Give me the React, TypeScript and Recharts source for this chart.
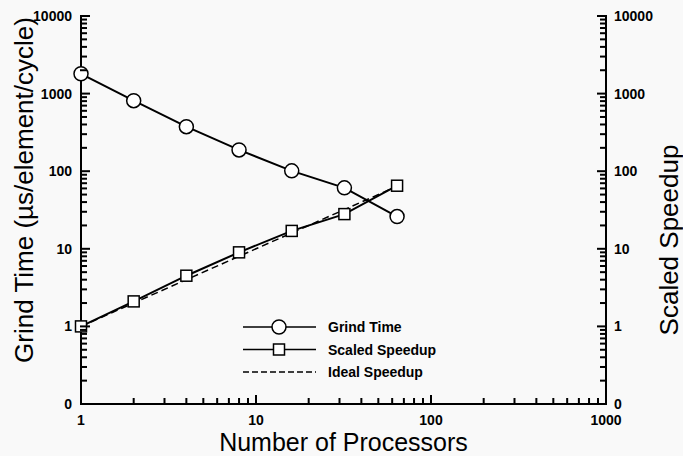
import { LineChart, Line, XAxis, YAxis } from 'recharts';

const processors = [1, 2, 4, 8, 16, 32, 64];
const grindTime = [1800, 810, 375, 188, 101, 61, 26];
const scaledSpeedup = [1, 2.1, 4.5, 9, 17, 28, 65];
const idealSpeedup = [1, 2, 4, 8, 16, 32, 64];

const xMajor = [1, 10, 100, 1000];
const yMajor = [0.1, 1, 10, 100, 1000, 10000];
const yMajorLabels = ['0', '1', '10', '100', '1000', '10000'];
const minorSteps = [2, 3, 4, 5, 6, 7, 8, 9];

const data = processors.map((p, i) => ({
  p,
  grind: grindTime[i],
  scaled: scaledSpeedup[i],
  ideal: idealSpeedup[i],
}));

// majors plus the 2..9 minor ticks of each decade
const withMinors = (majors: number[]) =>
  majors.flatMap((m, i) =>
    i < majors.length - 1 ? [m, ...minorSteps.map((s) => +(s * m).toPrecision(3))] : [m]
  );

const xTicks = withMinors(xMajor);
const yTicks = withMinors(yMajor);

const FONT = '"Liberation Sans", Arial, Helvetica, sans-serif';
const INK = '#000';
const MINOR = 6;
const MAJOR = 9;

const isMajor = (list: number[], v: number) => list.some((m) => Math.abs(m - v) < 1e-9);

// tickSize is ~0, so x/y sit on the axis line; marks point into the plot
const XTick = (props: any) => {
  const { x, y, payload } = props;
  const major = isMajor(xMajor, payload.value);
  const len = major ? MAJOR : MINOR;
  return (
    <g>
      <rect x={x - 1} y={y - len} width={2} height={len + 1} fill={INK} />
      {major && (
        <text x={x} y={y + 21} textAnchor="middle" fontFamily={FONT} fontWeight="bold" fontSize={14} fill={INK}>
          {payload.value}
        </text>
      )}
    </g>
  );
};

const YTickLeft = (props: any) => {
  const { x, y, payload } = props;
  const idx = yMajor.findIndex((m) => Math.abs(m - payload.value) < 1e-9);
  const len = idx >= 0 ? MAJOR : MINOR;
  return (
    <g>
      <rect x={x - 1} y={y - 1} width={len + 1} height={2} fill={INK} />
      {idx >= 0 && (
        <text x={x - 9} y={y + 5} textAnchor="end" fontFamily={FONT} fontWeight="bold" fontSize={14} fill={INK}>
          {yMajorLabels[idx]}
        </text>
      )}
    </g>
  );
};

const YTickRight = (props: any) => {
  const { x, y, payload } = props;
  const idx = yMajor.findIndex((m) => Math.abs(m - payload.value) < 1e-9);
  const len = idx >= 0 ? MAJOR : MINOR;
  return (
    <g>
      <rect x={x - len} y={y - 1} width={len + 1} height={2} fill={INK} />
      {idx >= 0 && (
        <text x={x + 8} y={y + 5} textAnchor="start" fontFamily={FONT} fontWeight="bold" fontSize={14} fill={INK}>
          {yMajorLabels[idx]}
        </text>
      )}
    </g>
  );
};

const SquareDot = (props: any) => {
  const { cx, cy } = props;
  return <rect x={cx - 5.5} y={cy - 5.5} width={11} height={11} fill="#fff" stroke={INK} strokeWidth={1.5} />;
};

const legendItems = [
  { label: 'Grind Time', marker: 'circle', dash: undefined },
  { label: 'Scaled Speedup', marker: 'square', dash: undefined },
  { label: 'Ideal Speedup', marker: 'none', dash: '6 3' },
];

export default function App() {
  return (
    <div style={{ position: 'absolute', left: 0, top: 0, width: 683, height: 456, background: '#f9f9f9' }}>
      <LineChart width={683} height={456} data={data} margin={{ top: 16, right: 0, bottom: 0, left: 0 }}>
        <Line
          yAxisId={1}
          dataKey="ideal"
          name="Ideal Speedup"
          stroke={INK}
          strokeWidth={1.5}
          strokeDasharray="7 4"
          dot={false}
          isAnimationActive={false}
        />
        <Line
          yAxisId={1}
          dataKey="scaled"
          name="Scaled Speedup"
          stroke={INK}
          strokeWidth={2}
          dot={<SquareDot />}
          isAnimationActive={false}
        />
        <Line
          yAxisId={0}
          dataKey="grind"
          name="Grind Time"
          stroke={INK}
          strokeWidth={2}
          dot={{ r: 7, fill: '#fff', stroke: INK, strokeWidth: 1.5 }}
          isAnimationActive={false}
        />
        <XAxis
          dataKey="p"
          type="number"
          scale="log"
          domain={[1, 1000]}
          ticks={xTicks}
          interval={0}
          height={52}
          tickSize={-0.001}
          tickMargin={0}
          tickLine={false}
          axisLine={{ stroke: INK, strokeWidth: 2 }}
          tick={XTick}
        />
        <YAxis
          yAxisId={0}
          type="number"
          scale="log"
          domain={[0.1, 10000]}
          ticks={yTicks}
          interval={0}
          width={81}
          tickSize={-0.001}
          tickMargin={0}
          tickLine={false}
          axisLine={{ stroke: INK, strokeWidth: 2 }}
          tick={YTickLeft}
        />
        <YAxis
          yAxisId={1}
          orientation="right"
          type="number"
          scale="log"
          domain={[0.1, 10000]}
          ticks={yTicks}
          interval={0}
          width={77}
          tickSize={-0.001}
          tickMargin={0}
          tickLine={false}
          axisLine={{ stroke: INK, strokeWidth: 2 }}
          tick={YTickRight}
        />
      </LineChart>
      <svg width={683} height={456} style={{ position: 'absolute', left: 0, top: 0, pointerEvents: 'none' }}>
        <text x={24} y={190} transform="rotate(-90 24 190)" textAnchor="middle" dominantBaseline="central" fontFamily={FONT} fontSize={26} fill={INK}>
          Grind Time (µs/element/cycle)
        </text>
        <text x={669} y={240} transform="rotate(-90 669 240)" textAnchor="middle" dominantBaseline="central" fontFamily={FONT} fontSize={26} fill={INK}>
          Scaled Speedup
        </text>
        <text x={343.5} y={451} textAnchor="middle" fontFamily={FONT} fontSize={25} fill={INK}>
          Number of Processors
        </text>
        <g transform="translate(240 316)">
          {legendItems.map((item, i) => {
            const y = 11 + i * 22.5;
            return (
              <g key={item.label}>
                <line x1={3} x2={76} y1={y} y2={y} stroke={INK} strokeWidth={1.5} strokeDasharray={item.dash} />
                {item.marker === 'circle' && <circle cx={39} cy={y} r={7} fill="#fff" stroke={INK} strokeWidth={1.5} />}
                {item.marker === 'square' && (
                  <rect x={33.5} y={y - 5.5} width={11} height={11} fill="#fff" stroke={INK} strokeWidth={1.5} />
                )}
                <text x={88} y={y + 5} fontFamily={FONT} fontWeight="bold" fontSize={14} fill={INK}>
                  {item.label}
                </text>
              </g>
            );
          })}
        </g>
      </svg>
    </div>
  );
}
